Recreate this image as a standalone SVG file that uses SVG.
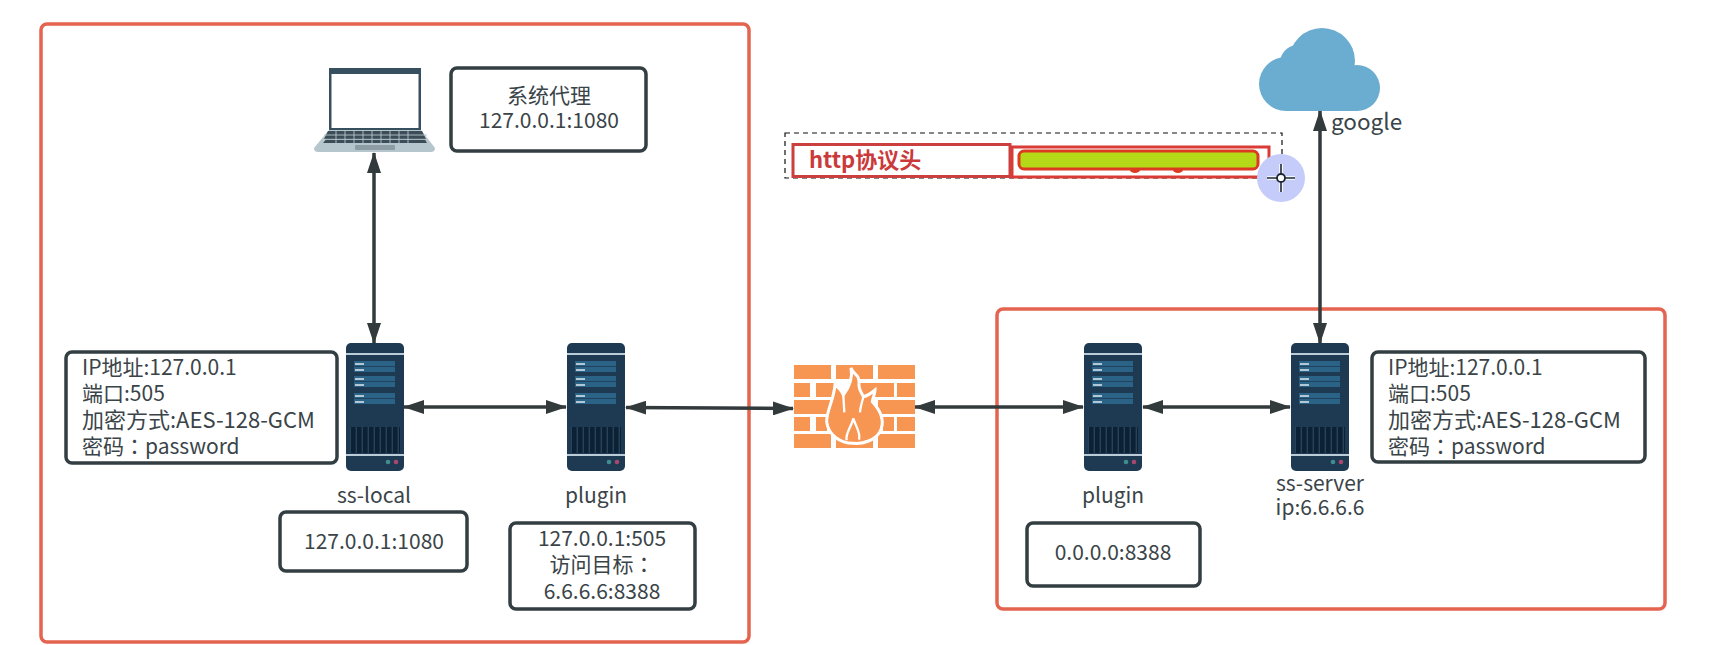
<svg xmlns="http://www.w3.org/2000/svg" width="1715" height="645" viewBox="0 0 1715 645">
<style>
text{font-family:"Noto Sans CJK SC","Noto Sans",sans-serif;font-size:21px;fill:#3a4448}
.c{text-anchor:middle}
.w{font-size:22px}
.fw{font-family:"Noto Sans CJK TC","Noto Sans",sans-serif}
.zone{fill:none;stroke:#e4644f;stroke-width:3.5}
.box{fill:#fff;stroke:#323e42;stroke-width:3.5}
.edge{fill:none;stroke:#323a3c;stroke-width:3.5;marker-start:url(#head);marker-end:url(#head)}
.brick{fill:#f79552}
.cloud{fill:#6bacd1}
</style>
<defs>
<marker id="head" viewBox="0 0 21 14" refX="20" refY="7" markerUnits="userSpaceOnUse" markerWidth="21" markerHeight="14" orient="auto-start-reverse"><path d="M0 0L21 7L0 14Z" fill="#323a3c"/></marker>
<pattern id="grille" width="6" height="10" patternUnits="userSpaceOnUse"><rect width="6" height="10" fill="#0b2136"/><rect x="3.6" width="1.4" height="10" fill="#2a4257"/></pattern>
<g id="server">
<rect width="58" height="128" rx="5" fill="#1e3a52"/>
<rect y="10" width="58" height="2" fill="#b9ccd8"/>
<rect x="8" y="18" width="41" height="11" fill="#2b6387"/>
<rect x="8" y="33" width="41" height="11" fill="#2b6387"/>
<rect x="8" y="50" width="41" height="11" fill="#2b6387"/>
<path d="M8 23.500h41M8 38.500h41M8 55.500h41" stroke="#1e3a52" stroke-width=".8"/>
<path d="M9 21h9M9 27h9M9 36h9M9 42h9M9 53h9M9 59h9" stroke="#dfeaf1" stroke-width="1.6"/>
<rect x="4" y="84" width="50" height="26" fill="url(#grille)"/>
<rect y="111" width="58" height="2" fill="#b9ccd8"/>
<circle cx="42" cy="119" r="2.3" fill="#3f8e8e"/>
<circle cx="50" cy="119" r="2.3" fill="#a8486e"/>
</g>
</defs>
<rect width="1715" height="645" fill="#fff"/>
<g id="zone-local"><rect class="zone" x="41" y="24" width="708" height="618" rx="6"/></g>
<g id="zone-remote"><rect class="zone" x="997" y="309" width="668" height="300" rx="6"/></g>
<g id="connectors">
<path class="edge" d="M374 153V343"/>
<path class="edge" d="M404 407H566"/>
<path class="edge" d="M626 407.500L793 408.500"/>
<path class="edge" d="M915 407H1083"/>
<path class="edge" d="M1143 407H1290"/>
<path class="edge" d="M1320 111V343"/>
</g>
<g id="laptop">
<rect x="329" y="68" width="92" height="62" fill="#37505f"/>
<rect x="331.500" y="74" width="87" height="54" fill="#fff"/>
<path d="M329 130H421L435 148Q435 152 431 152H318Q314 152 314 148Z" fill="#b5c6cd"/>
<path d="M328 131H422L426 139H324ZM326 139.500H425L427 143H323Z" fill="#3d4d57"/>
<path d="M336 131V143M345 131V143M354 131V143M363 131V143M372 131V143M381 131V143M390 131V143M399 131V143M408 131V143M324 135H427M324 139.300H427" stroke="#b5c6cd" stroke-width=".9"/>
<rect x="355" y="145" width="40" height="5" rx="1" fill="#8e9da5"/>
</g>
<g id="proxy"><rect class="box" x="451" y="68" width="195" height="83" rx="6"/><text class="c" x="549" y="103">系统代理</text><text class="c" x="549" y="128">127.0.0.1:1080</text></g>
<g id="info-local"><rect class="box" x="66" y="352" width="271" height="111" rx="6"/>
<text x="82" y="375">IP地址:127.0.0.1</text><text x="82" y="401">端口:505</text><text class="w" x="82" y="428">加密方式:AES-128-GCM</text><text x="82" y="454">密码<tspan class="fw">：</tspan>password</text></g>
<g id="ss-local"><use href="#server" x="346" y="343"/><text class="c" x="374" y="503">ss-local</text></g>
<g id="addr-local"><rect class="box" x="280" y="512" width="187" height="59" rx="6"/><text class="c" x="374" y="549">127.0.0.1:1080</text></g>
<g id="plugin-local"><use href="#server" x="567" y="343"/><text class="c" x="596" y="503">plugin</text></g>
<g id="addr-plugin-local"><rect class="box" x="510" y="523" width="185" height="86" rx="6"/><text class="c" x="602" y="546">127.0.0.1:505</text><text class="c fw" x="602" y="572">访问目标：</text><text class="c" x="602" y="599">6.6.6.6:8388</text></g>
<g id="firewall">
<path class="brick" d="M794 365h37v14h-37zM836 365h37v14h-37zM878 365h37v14h-37zM794 383h16v14h-16zM816 383h18v14h-18zM858 383h36v14h-36zM897 383h18v14h-18zM794 400h36v14h-36zM878 400h37v14h-37zM794 417h16v14h-16zM816 417h11v14h-11zM883 417h11v14h-11zM897 417h18v14h-18zM794 434h37v14h-37zM836 434h37v14h-37zM878 434h37v14h-37z"/>
<g transform="translate(785 355) scale(.3333)">
<path d="M198 38C205 62 225 55 222 90C222 105 232 118 235 125C250 122 262 112 270 105C270 120 262 130 262 140C290 170 300 200 285 230C270 255 235 268 205 265C165 265 130 240 125 200C125 165 145 140 150 90C165 100 172 112 175 120C190 100 205 75 198 38Z" fill="#f79552" stroke="#fff" stroke-width="9"/>
<path d="M175 120L178 172M235 125C232 140 226 155 225 172M205 190C200 215 180 235 185 256M205 190C212 215 228 232 222 254" fill="none" stroke="#fff" stroke-width="7"/>
</g>
</g>
<g id="plugin-remote"><use href="#server" x="1084" y="343"/><text class="c" x="1113" y="503">plugin</text></g>
<g id="addr-remote"><rect class="box" x="1027" y="523" width="173" height="63" rx="6"/><text class="c" x="1113" y="560">0.0.0.0:8388</text></g>
<g id="ss-server"><use href="#server" x="1291" y="343"/><text class="c" x="1320" y="491">ss-server</text><text class="c" x="1320" y="515">ip:6.6.6.6</text></g>
<g id="info-remote"><rect class="box" x="1372" y="352" width="273" height="110" rx="6"/>
<text x="1388" y="375">IP地址:127.0.0.1</text><text x="1388" y="401">端口:505</text><text class="w" x="1388" y="428">加密方式:AES-128-GCM</text><text x="1388" y="454">密码<tspan class="fw">：</tspan>password</text></g>
<g id="cloud"><circle class="cloud" cx="1286" cy="84" r="27"/><circle class="cloud" cx="1298" cy="63" r="18"/><circle class="cloud" cx="1322" cy="61" r="33"/><circle class="cloud" cx="1357" cy="88" r="23"/><rect class="cloud" x="1286" y="70" width="72" height="41"/></g>
<text id="label-google" x="1331" y="130" style="font-size:22.500px">google</text>
<g id="http-header">
<rect x="785" y="133" width="497" height="45" fill="none" stroke="#111" stroke-width="1.200" stroke-dasharray="5 4"/>
<rect x="793" y="144.500" width="217" height="32" fill="#fff" stroke="#cc3f3f" stroke-width="3"/>
<rect x="1012" y="147" width="257" height="30" fill="#fff" stroke="#d93c37" stroke-width="3"/>
<ellipse cx="1135" cy="170" rx="5" ry="3" fill="#dd3a22"/><ellipse cx="1178" cy="170" rx="5" ry="3" fill="#dd3a22"/>
<rect x="1019" y="151" width="239" height="18" rx="5" fill="#b4d916" stroke="#dd3a22" stroke-width="3"/>
<text x="809" y="168" font-weight="700" style="fill:#cb3a3a;font-size:22px">http协议头</text>
</g>
<g id="cursor"><circle cx="1281" cy="178" r="24" fill="#c5ccfa"/><path d="M1281 164V192M1267 178H1295" stroke="#fff" stroke-width="3.500"/><path d="M1281 164V192M1267 178H1295" stroke="#1d2733" stroke-width="1.600"/><circle cx="1281" cy="178" r="4" fill="#fff" stroke="#1d2733" stroke-width="1.800"/></g>
</svg>
